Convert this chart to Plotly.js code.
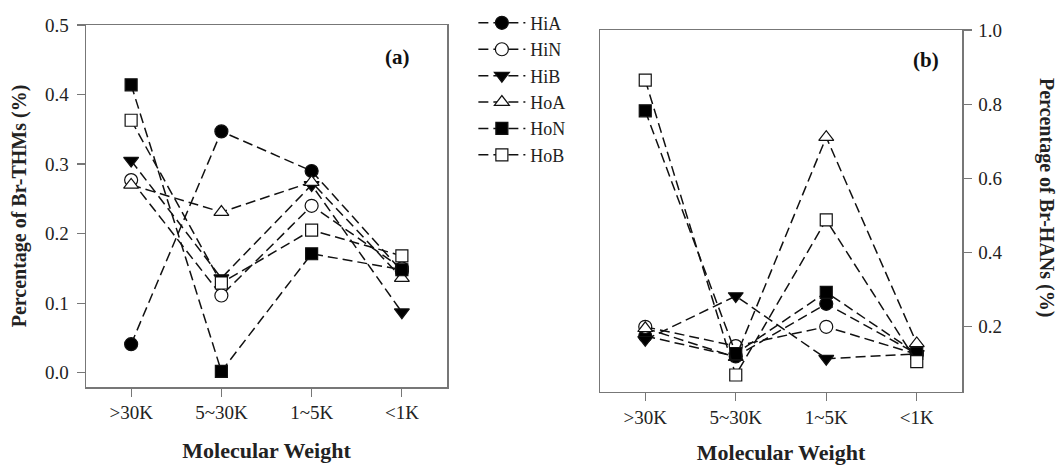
<!DOCTYPE html>
<html>
<head>
<meta charset="utf-8">
<script src="https://cdn.plot.ly/plotly-3.0.1.min.js"></script>
<style>
  html, body { margin: 0; padding: 0; background: #fff; }
  #chart { width: 1059px; height: 465px; }
</style>
</head>
<body>
<div id="chart"></div>
<script>
// Molecular weight fractions
const categories = ['>30K', '5~30K', '1~5K', '<1K'];
const seriesNames = ['HiA', 'HiN', 'HiB', 'HoA', 'HoN', 'HoB'];

// Percentage of Br-THMs (%) per fraction, panel (a)
const thmHiA = [0.041, 0.347, 0.290, 0.146];
const thmHiN = [0.277, 0.111, 0.240, 0.150];
const thmHiB = [0.305, 0.136, 0.270, 0.087];
const thmHoA = [0.270, 0.231, 0.274, 0.136];
const thmHoN = [0.414, 0.002, 0.171, 0.148];
const thmHoB = [0.363, 0.129, 0.205, 0.168];

// Percentage of Br-HANs (%) per fraction, panel (b)
const hanHiA = [0.175, 0.120, 0.262, 0.127];
const hanHiN = [0.200, 0.148, 0.200, 0.126];
const hanHiB = [0.165, 0.283, 0.114, 0.127];
const hanHoA = [0.196, 0.118, 0.711, 0.155];
const hanHoN = [0.782, 0.128, 0.293, 0.128];
const hanHoB = [0.865, 0.070, 0.488, 0.106];

const thmSeries = [thmHiA, thmHiN, thmHiB, thmHoA, thmHoN, thmHoB];
const hanSeries = [hanHiA, hanHiN, hanHiB, hanHoA, hanHoN, hanHoB];

// Marker style per fraction: symbol, fill, size
const markerStyles = [
  { symbol: 'circle', fill: '#000', size: 13 },
  { symbol: 'circle', fill: '#fff', size: 13 },
  { symbol: 'triangle-down', fill: '#000', size: 13 },
  { symbol: 'triangle-up', fill: '#fff', size: 13 },
  { symbol: 'square', fill: '#000', size: 12 },
  { symbol: 'square', fill: '#fff', size: 12 }
];

const FONT = "'Liberation Serif', 'Times New Roman', serif";
const traces = [];

function addSeries(values, i, xa, ya, showLegend) {
  const m = markerStyles[i];
  traces.push({
    type: 'scatter',
    mode: 'lines+markers',
    name: seriesNames[i],
    x: categories,
    y: values,
    xaxis: xa,
    yaxis: ya,
    showlegend: showLegend,
    legendgroup: seriesNames[i],
    line: { color: '#111', width: 1.5, dash: '10px,5px' },
    marker: { symbol: m.symbol, size: m.size, color: m.fill,
              line: { color: '#111', width: 1.2 } }
  });
}

thmSeries.forEach((v, i) => addSeries(v, i, 'x', 'y', true));
hanSeries.forEach((v, i) => addSeries(v, i, 'x2', 'y2', false));

const axisCommon = {
  showline: true,
  linecolor: '#777',
  linewidth: 1.5,
  mirror: true,
  showgrid: false,
  zeroline: false,
  ticks: 'outside',
  ticklen: 8,
  tickwidth: 1.2,
  tickcolor: '#777',
  tickfont: { family: FONT, size: 19, color: '#222' }
};

const layout = {
  width: 1059,
  height: 465,
  margin: { l: 0, r: 0, t: 0, b: 0 },
  paper_bgcolor: '#fff',
  plot_bgcolor: '#fff',
  font: { family: FONT, color: '#222' },
  showlegend: true,
  legend: {
    x: 0.447, y: 0.99, xanchor: 'left', yanchor: 'top',
    bgcolor: 'rgba(0,0,0,0)',
    font: { family: FONT, size: 18, color: '#222' },
    itemwidth: 47,
    tracegroupgap: 0
  },
  xaxis: Object.assign({}, axisCommon, {
    domain: [86 / 1059, 447 / 1059],
    anchor: 'y',
    type: 'category',
    range: [-0.5, 3.5],
    title: { text: '<b>Molecular Weight</b>', font: { family: FONT, size: 22, color: '#222' }, standoff: 20 }
  }),
  yaxis: Object.assign({}, axisCommon, {
    domain: [1 - 387 / 465, 1 - 25 / 465],
    anchor: 'x',
    range: [-0.0206, 0.5],
    tick0: 0,
    dtick: 0.1,
    tickformat: '.1f',
    ticklabelstandoff: 4,
    title: { text: '<b>Percentage of Br-THMs (%)</b>', font: { family: FONT, size: 20, color: '#222' }, standoff: 13 }
  }),
  xaxis2: Object.assign({}, axisCommon, {
    domain: [600 / 1059, 962 / 1059],
    anchor: 'y2',
    type: 'category',
    range: [-0.5, 3.5],
    title: { text: '<b>Molecular Weight</b>', font: { family: FONT, size: 22, color: '#222' }, standoff: 24 }
  }),
  yaxis2: Object.assign({}, axisCommon, {
    domain: [1 - 391.7 / 465, 1 - 30 / 465],
    anchor: 'x2',
    side: 'right',
    range: [0.025, 1.0],
    tick0: 0,
    dtick: 0.2,
    tickformat: '.1f',
    ticklabelstandoff: 3
  }),
  annotations: [
    { text: '<b>(a)</b>', xref: 'paper', yref: 'paper', x: 397 / 1059, y: 1 - 57 / 465,
      xanchor: 'center', yanchor: 'middle', showarrow: false,
      font: { family: FONT, size: 21, color: '#111' } },
    { text: '<b>(b)</b>', xref: 'paper', yref: 'paper', x: 926 / 1059, y: 1 - 60 / 465,
      xanchor: 'center', yanchor: 'middle', showarrow: false,
      font: { family: FONT, size: 21, color: '#111' } },
    { text: '<b>Percentage of Br-HANs (%)</b>', xref: 'paper', yref: 'paper',
      x: 1046 / 1059, y: 1 - 197 / 465, textangle: 90,
      xanchor: 'center', yanchor: 'middle', showarrow: false,
      font: { family: FONT, size: 20, color: '#222' } }
  ]
};

Plotly.newPlot('chart', traces, layout, { staticPlot: true, displayModeBar: false });
</script>
</body>
</html>
